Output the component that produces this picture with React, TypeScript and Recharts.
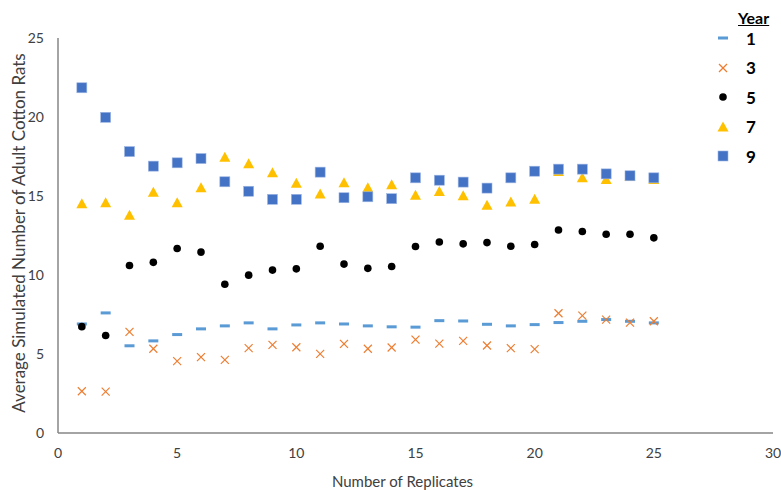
import { ScatterChart, Scatter, XAxis, YAxis } from 'recharts';

const replicates = [1, 2, 3, 4, 5, 6, 7, 8, 9, 10, 11, 12, 13, 14, 15, 16, 17, 18, 19, 20, 21, 22, 23, 24, 25];

const year1 = [6.9, 7.6, 5.52, 5.83, 6.23, 6.59, 6.78, 6.97, 6.59, 6.84, 6.97, 6.9, 6.78, 6.72, 6.7, 7.11, 7.09, 6.88, 6.78, 6.86, 6.99, 7.07, 7.18, 7.07, 6.97];
const year3 = [2.64, 2.62, 6.4, 5.33, 4.55, 4.8, 4.63, 5.37, 5.58, 5.43, 5.01, 5.64, 5.33, 5.41, 5.91, 5.66, 5.83, 5.54, 5.37, 5.31, 7.58, 7.43, 7.18, 6.99, 7.07];
const year5 = [6.73, 6.17, 10.6, 10.8, 11.68, 11.45, 9.41, 9.99, 10.31, 10.39, 11.82, 10.69, 10.42, 10.54, 11.8, 12.09, 11.97, 12.05, 11.82, 11.93, 12.85, 12.75, 12.58, 12.58, 12.35];
const year7 = [14.51, 14.58, 13.78, 15.23, 14.58, 15.52, 17.45, 17.04, 16.47, 15.81, 15.12, 15.84, 15.52, 15.71, 15.04, 15.29, 15.02, 14.41, 14.62, 14.79, 16.55, 16.15, 16.05, 16.25, 16.05];
const year9 = [21.85, 19.98, 17.81, 16.89, 17.1, 17.37, 15.9, 15.3, 14.79, 14.79, 16.51, 14.89, 14.95, 14.83, 16.15, 16.0, 15.88, 15.5, 16.15, 16.57, 16.7, 16.7, 16.4, 16.28, 16.15];

const xTicks = [0, 5, 10, 15, 20, 25, 30];
const yTicks = [0, 5, 10, 15, 20, 25];

const toPoints = (vals: number[]) => replicates.map((x, i) => ({ x, y: vals[i] }));

const FONT = 'Lato, "Open Sans", sans-serif';
const TEXT = '#404040';
const AXIS = '#868686';

const Dash = (p: any) => <rect x={p.cx - 5} y={p.cy - 1.5} width={10} height={3} fill="#5B9BD5" />;
const Cross = (p: any) => (
  <g stroke="#ED7D31" strokeWidth={1.2}>
    <line x1={p.cx - 4} y1={p.cy - 4} x2={p.cx + 4} y2={p.cy + 4} />
    <line x1={p.cx - 4} y1={p.cy + 4} x2={p.cx + 4} y2={p.cy - 4} />
  </g>
);
const Dot = (p: any) => <circle cx={p.cx} cy={p.cy} r={3.8} fill="#000" />;
const Tri = (p: any) => (
  <polygon points={`${p.cx},${p.cy - 5.5} ${p.cx + 5.5},${p.cy + 4.5} ${p.cx - 5.5},${p.cy + 4.5}`} fill="#FFC000" />
);
const Sq = (p: any) => (
  <rect x={p.cx - 5} y={p.cy - 5} width={10} height={10} fill="#4472C4" stroke="#9DB6E3" strokeWidth={0.6} />
);

const series = [
  { name: '1', vals: year1, Shape: Dash },
  { name: '3', vals: year3, Shape: Cross },
  { name: '5', vals: year5, Shape: Dot },
  { name: '7', vals: year7, Shape: Tri },
  { name: '9', vals: year9, Shape: Sq },
];

export default function App() {
  return (
    <div style={{ position: 'relative', width: 781, height: 490, fontFamily: FONT }}>
      <style>{'body{margin:0}'}</style>
      <ScatterChart width={781} height={490} margin={{ top: 38, right: 8, bottom: 0, left: 0 }}>
        <XAxis
          type="number" dataKey="x" domain={[0, 30]} ticks={xTicks} height={57}
          tickLine={false} tickSize={0} tickMargin={15}
          axisLine={{ stroke: AXIS, strokeWidth: 1.5 }}
          tick={{ fill: TEXT, fontSize: 14, fontFamily: FONT }}
          label={{ value: 'Number of Replicates', position: 'insideBottom', offset: 3, dx: -13, fill: TEXT, fontSize: 15, fontFamily: FONT }}
        />
        <YAxis
          type="number" dataKey="y" domain={[0, 25]} ticks={yTicks} width={58}
          tickLine={false} tickSize={0} tickMargin={14}
          axisLine={{ stroke: AXIS, strokeWidth: 1.5 }}
          tick={{ fill: TEXT, fontSize: 14, fontFamily: FONT }}
          label={{
            content: () => (
              <text transform="translate(18,233) rotate(-90)" textAnchor="middle" dominantBaseline="central"
                fill={TEXT} fontSize={17} fontFamily={FONT}>
                Average Simulated Number of Adult Cotton Rats
              </text>
            ),
          }}
        />
        {series.map((s) => (
          <Scatter key={s.name} name={s.name} data={toPoints(s.vals)} shape={s.Shape} isAnimationActive={false} />
        ))}
      </ScatterChart>
      <div style={{ position: 'absolute', left: 712, top: 8, width: 69, color: '#000' }}>
        <div style={{ position: 'absolute', left: 26, top: 0, fontWeight: 700, fontSize: 16, textDecoration: 'underline' }}>Year</div>
        {series.map((s, i) => (
          <div key={s.name} style={{ position: 'absolute', left: 0, top: 20 + i * 29.6, height: 20, display: 'flex', alignItems: 'center' }}>
            <svg width={22} height={20}>
              <s.Shape cx={11} cy={10} />
            </svg>
            <span style={{ marginLeft: 12, fontWeight: 700, fontSize: 17 }}>{s.name}</span>
          </div>
        ))}
      </div>
    </div>
  );
}
